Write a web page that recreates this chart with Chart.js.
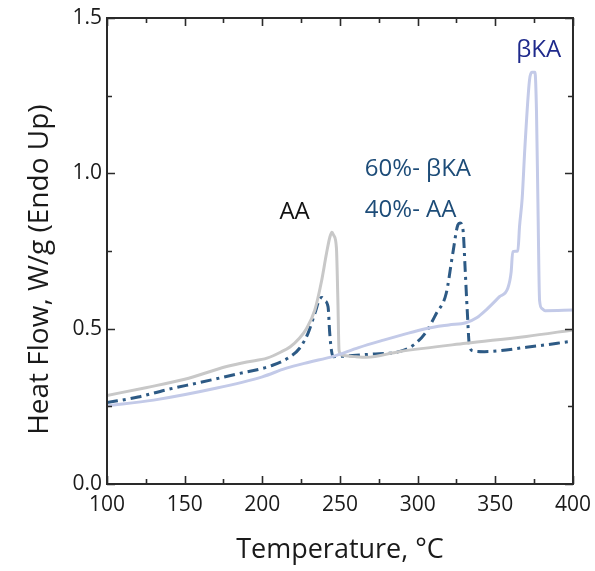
<!DOCTYPE html>
<html>
<head>
<meta charset="utf-8">
<script src="https://cdn.jsdelivr.net/npm/chart.js@4.4.1/dist/chart.umd.min.js"></script>
<style>
  html, body { margin: 0; padding: 0; background: #fff; }
  #wrap { width: 595px; height: 571px; }
</style>
</head>
<body>
<div id="wrap"><canvas id="dscChart" width="595" height="571"></canvas></div>
<script>
// AA (pure) curve
const aaTemp = [100, 125, 150, 177, 190, 203, 212, 218, 224, 228.4, 233.8, 238, 241.3, 243.5, 244.8, 246, 247.7, 248.6, 249.4, 251, 260, 267, 288, 331, 370, 400];
const aaFlow = [0.285, 0.31, 0.337, 0.378, 0.393, 0.405, 0.425, 0.442, 0.47, 0.50, 0.56, 0.65, 0.742, 0.795, 0.81, 0.80, 0.76, 0.60, 0.43, 0.415, 0.41, 0.408, 0.426, 0.453, 0.475, 0.496];

// 60% bKA / 40% AA mixture
const mixTemp = [100, 120, 138, 160, 181, 207, 218, 224, 229.4, 233.8, 237.3, 238.5, 240, 242.3, 243.4, 244.5, 245.5, 254, 270, 288, 298, 305.5, 312, 318.4, 322.6, 325.9, 327.3, 329.2, 330.6, 331.9, 333.4, 336, 343, 370, 400];
const mixFlow = [0.262, 0.28, 0.303, 0.327, 0.351, 0.383, 0.41, 0.437, 0.485, 0.549, 0.598, 0.60, 0.59, 0.571, 0.485, 0.43, 0.41, 0.412, 0.418, 0.426, 0.45, 0.49, 0.549, 0.614, 0.742, 0.834, 0.84, 0.818, 0.689, 0.56, 0.442, 0.428, 0.426, 0.44, 0.46];

// bKA (pure) curve
const bkaTemp = [100, 130, 170, 200, 215, 230, 245, 262, 278, 290, 305, 320, 331, 338, 344, 352.7, 358, 360.2, 361.2, 364.5, 365.6, 367.3, 369, 372, 373.5, 375.5, 376.5, 377.4, 378.5, 380, 382, 400];
const bkaFlow = [0.252, 0.27, 0.308, 0.345, 0.372, 0.392, 0.41, 0.439, 0.463, 0.48, 0.50, 0.512, 0.519, 0.535, 0.56, 0.603, 0.63, 0.683, 0.748, 0.75, 0.83, 0.92, 1.08, 1.30, 1.325, 1.325, 1.2, 0.914, 0.59, 0.565, 0.558, 0.56];

const xTicks = [100, 150, 200, 250, 300, 350, 400];
const yTicks = [0.0, 0.5, 1.0, 1.5];

const curveLabels = [
    { text: 'AA', x: 211, y: 0.875, color: '#111111' },
    { text: '60%- βKA', x: 266, y: 1.015, color: '#1d4c78' },
    { text: '40%- AA', x: 266, y: 0.88, color: '#1d4c78' },
    { text: 'βKA', x: 363.5, y: 1.395, color: '#1f2a8c' }
];

const FONT = '"Open Sans", Lato, sans-serif';
const yTitle = 'Heat Flow, W/g (Endo Up)';

function toPoints(xs, ys) {
    return xs.map((x, i) => ({ x: x, y: ys[i] }));
}

// box + inward ticks on all four sides, curve labels, y title
const frameAndLabels = {
    id: 'frameAndLabels',
    afterDraw(chart) {
        const ctx = chart.ctx;
        const area = chart.chartArea;
        const xs = chart.scales.x;
        const ys = chart.scales.y;
        ctx.save();
        ctx.strokeStyle = '#2a2a2a';
        ctx.lineWidth = 2;
        ctx.strokeRect(area.left, area.top, area.right - area.left, area.bottom - area.top);

        ctx.lineWidth = 1.6;
        ctx.beginPath();
        for (let t = 100; t <= 400; t += 25) {
            const px = Math.round(xs.getPixelForValue(t)) + 0.5;
            const len = t % 50 === 0 ? 8 : 5;
            ctx.moveTo(px, area.bottom); ctx.lineTo(px, area.bottom - len);
            ctx.moveTo(px, area.top); ctx.lineTo(px, area.top + len);
        }
        for (let v = 0; v <= 1.5001; v += 0.25) {
            const py = Math.round(ys.getPixelForValue(v)) + 0.5;
            const len = Math.abs(v * 2 - Math.round(v * 2)) < 0.01 ? 8 : 5;
            ctx.moveTo(area.left, py); ctx.lineTo(area.left + len, py);
            ctx.moveTo(area.right, py); ctx.lineTo(area.right - len, py);
        }
        ctx.stroke();

        ctx.font = '24px ' + FONT;
        ctx.textAlign = 'left';
        ctx.textBaseline = 'middle';
        curveLabels.forEach(l => {
            ctx.fillStyle = l.color;
            ctx.fillText(l.text, xs.getPixelForValue(l.x), ys.getPixelForValue(l.y));
        });

        // y axis title, sits a bit below the plot centre like the original
        ctx.fillStyle = '#1a1a1a';
        ctx.font = '28px ' + FONT;
        ctx.textAlign = 'center';
        ctx.translate(40, ys.getPixelForValue(0.69));
        ctx.rotate(-Math.PI / 2);
        ctx.fillText(yTitle, 0, 0);
        ctx.restore();
    }
};

const ctx = document.getElementById('dscChart').getContext('2d');
new Chart(ctx, {
    type: 'line',
    data: {
        datasets: [
            {
                label: 'βKA',
                data: toPoints(bkaTemp, bkaFlow),
                borderColor: '#c3cae8',
                borderWidth: 3,
                pointRadius: 0,
                cubicInterpolationMode: 'monotone'
            },
            {
                label: 'AA',
                data: toPoints(aaTemp, aaFlow),
                borderColor: '#c8c8c8',
                borderWidth: 3,
                pointRadius: 0,
                cubicInterpolationMode: 'monotone'
            },
            {
                label: '60%- βKA 40%- AA',
                data: toPoints(mixTemp, mixFlow),
                borderColor: '#2d5a85',
                borderWidth: 3,
                borderDash: [11, 5, 3, 5],
                pointRadius: 0,
                cubicInterpolationMode: 'monotone'
            }
        ]
    },
    options: {
        responsive: false,
        animation: false,
        layout: { padding: { top: 18, right: 22, left: 0, bottom: 0 } },
        plugins: {
            legend: { display: false },
            tooltip: { enabled: false }
        },
        scales: {
            x: {
                type: 'linear',
                min: 100,
                max: 400,
                afterBuildTicks: s => { s.ticks = xTicks.map(v => ({ value: v })); },
                grid: { display: false, drawTicks: true, tickLength: 4 },
                border: { display: false },
                ticks: {
                    color: '#1a1a1a',
                    font: { family: FONT, size: 21 },
                    padding: 4,
                    maxRotation: 0
                },
                title: {
                    display: true,
                    text: 'Temperature, °C',
                    color: '#1a1a1a',
                    font: { family: FONT, size: 27 },
                    padding: { top: 0, bottom: 4 }
                },
                afterFit: s => { s.height = 87; }
            },
            y: {
                type: 'linear',
                min: 0,
                max: 1.5,
                afterBuildTicks: s => { s.ticks = yTicks.map(v => ({ value: v })); },
                grid: { display: false, drawTicks: false },
                border: { display: false },
                ticks: {
                    color: '#1a1a1a',
                    font: { family: FONT, size: 21 },
                    padding: 5,
                    callback: v => v.toFixed(1)
                },
                title: { display: false },
                afterFit: s => { s.width = 107; }
            }
        }
    },
    plugins: [frameAndLabels]
});
</script>
</body>
</html>
